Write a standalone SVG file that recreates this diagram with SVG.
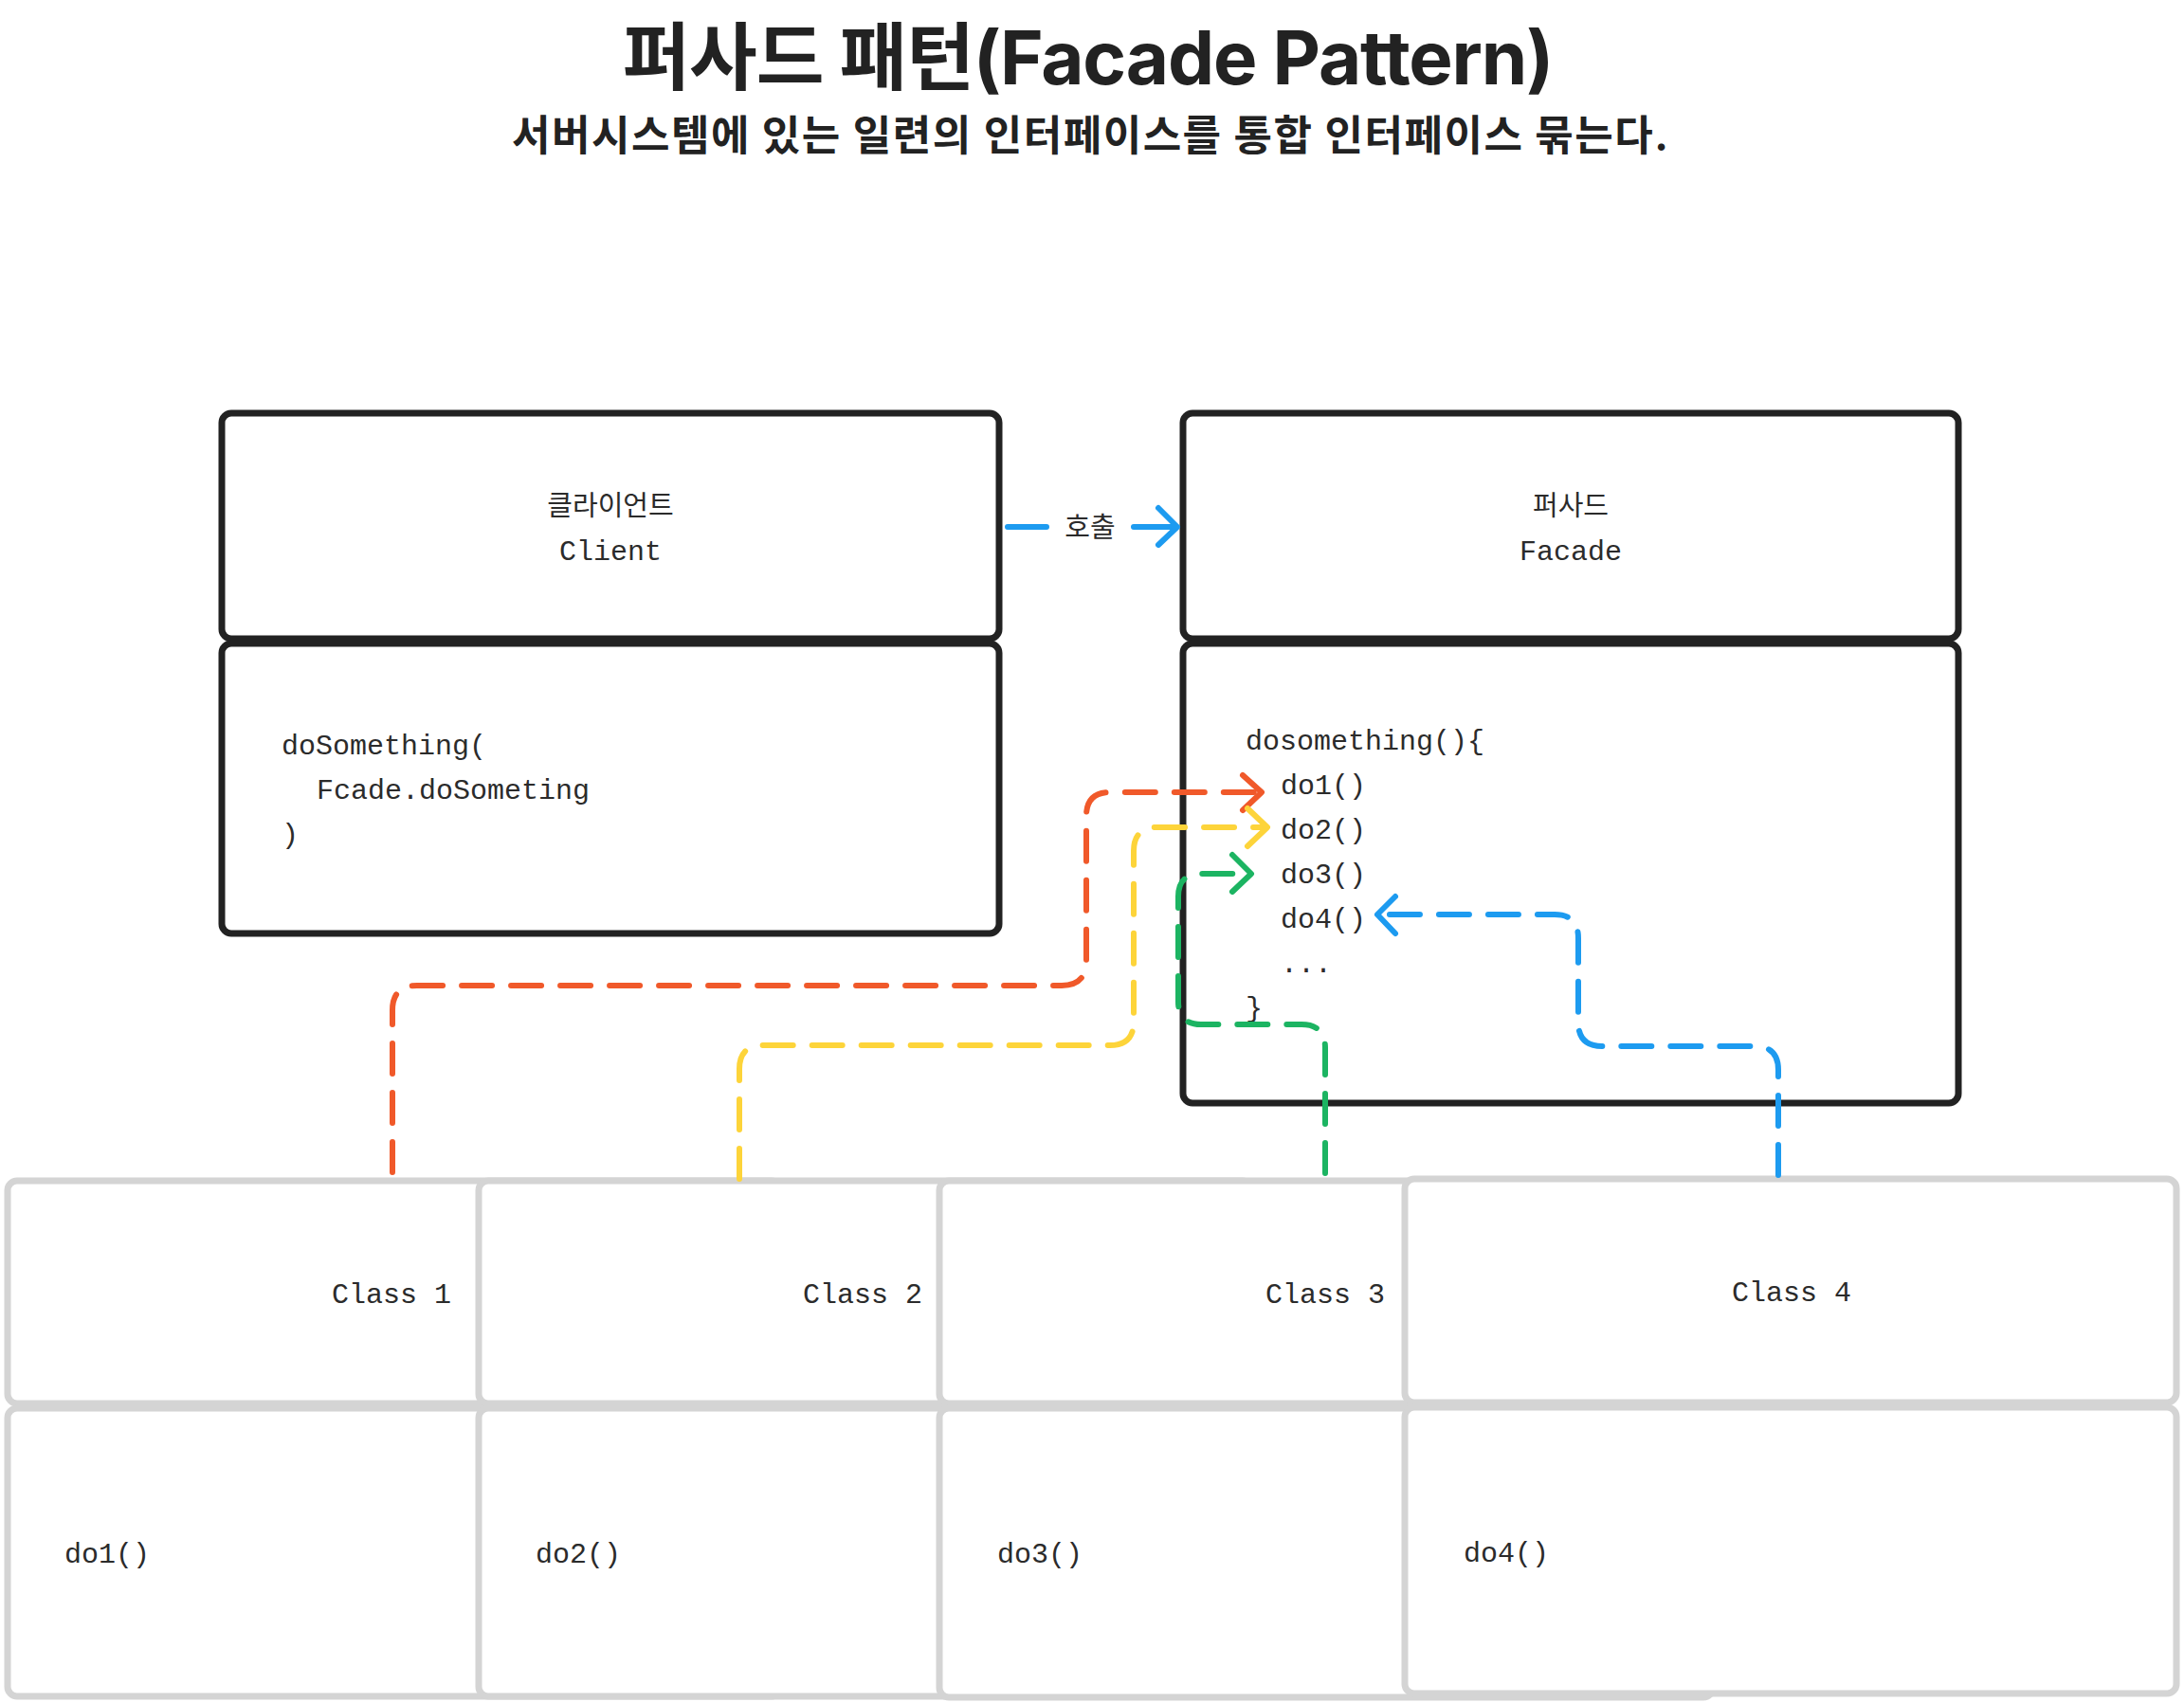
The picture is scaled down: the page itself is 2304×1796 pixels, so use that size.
<svg xmlns="http://www.w3.org/2000/svg" width="2304" height="1796" viewBox="0 0 2304 1796">
<style>
.title{font-family:"Inter","Noto Sans CJK KR",sans-serif;font-weight:700;fill:#222;text-anchor:middle}
.box{fill:#fff;stroke:#222;stroke-width:7}
.cls{fill:#fff;stroke:#d4d4d4;stroke-width:7}
.mono{font-family:"Liberation Mono","Noto Sans CJK KR",monospace;font-size:30px;fill:#2b2b2b}
.kr{font-family:"Noto Sans CJK KR",sans-serif;font-size:29px;fill:#2b2b2b;text-anchor:middle}
.mid{text-anchor:middle}
.dash{fill:none;stroke-width:6;stroke-linecap:round;stroke-linejoin:round;stroke-dasharray:32 20}
.head{fill:none;stroke-width:6;stroke-linecap:round;stroke-linejoin:round}
.red{stroke:#f0592a}
.yel{stroke:#fdd43a}
.grn{stroke:#1cb462}
.blu{stroke:#1d9bf0}
</style>
<rect width="2304" height="1796" fill="#fff"/>
<g id="title">
<text class="title" x="1148" y="89" font-size="78" textLength="983">퍼사드 패턴(Facade Pattern)</text>
<text class="title" x="1150" y="159" font-size="44" textLength="1220">서버시스템에 있는 일련의 인터페이스를 통합 인터페이스 묶는다.</text>
</g>
<g id="client">
<rect class="box" x="234" y="436" width="820" height="238" rx="10"/>
<rect class="box" x="234" y="679" width="820" height="306" rx="10"/>
<text class="kr" x="644" y="544">클라이언트</text>
<text class="mono mid" x="644" y="591">Client</text>
<text class="mono" x="297" y="796">doSomething(</text>
<text class="mono" x="334" y="843">Fcade.doSometing</text>
<text class="mono" x="297" y="890">)</text>
</g>
<g id="facade">
<rect class="box" x="1248" y="436" width="818" height="238" rx="10"/>
<rect class="box" x="1248" y="679" width="818" height="485" rx="10"/>
<text class="kr" x="1657" y="544">퍼사드</text>
<text class="mono mid" x="1657" y="591">Facade</text>
<text class="mono" x="1314" y="791">dosomething(){</text>
<text class="mono" x="1351" y="838">do1()</text>
<text class="mono" x="1351" y="885">do2()</text>
<text class="mono" x="1351" y="932">do3()</text>
<text class="mono" x="1351" y="979">do4()</text>
<text class="mono" x="1351" y="1026">...</text>
<text class="mono" x="1314" y="1073">}</text>
</g>
<g id="class1">
<rect class="cls" x="8" y="1246" width="816" height="235" rx="10"/>
<rect class="cls" x="8" y="1486" width="816" height="304" rx="10"/>
<text class="mono mid" x="413" y="1375">Class 1</text>
<text class="mono" x="68" y="1649">do1()</text>
</g>
<g id="class2">
<rect class="cls" x="505" y="1246" width="816" height="235" rx="10"/>
<rect class="cls" x="505" y="1486" width="816" height="304" rx="10"/>
<text class="mono mid" x="910" y="1375">Class 2</text>
<text class="mono" x="565" y="1649">do2()</text>
</g>
<g id="class3">
<rect class="cls" x="991" y="1246" width="816" height="235" rx="10"/>
<rect class="cls" x="991" y="1486" width="816" height="305" rx="10"/>
<text class="mono mid" x="1398" y="1375">Class 3</text>
<text class="mono" x="1052" y="1649">do3()</text>
</g>
<g id="class4">
<rect class="cls" x="1482" y="1244" width="814" height="236" rx="10"/>
<rect class="cls" x="1482" y="1485" width="814" height="302" rx="10"/>
<text class="mono mid" x="1890" y="1373">Class 4</text>
<text class="mono" x="1544" y="1648">do4()</text>
</g>
<g id="connectors">
<path class="head blu" d="M1063 556H1104M1196 556H1241"/>
<path class="head blu" d="M1222 536L1242 556L1222 575"/>
<text class="kr" x="1150" y="567" font-size="30">호출</text>
<path class="dash red" d="M414 1237V1066Q414 1040 440 1040H1120Q1146 1040 1146 1014V861Q1146 836 1171 836H1326"/>
<path class="head red" d="M1311 818L1331 836L1311 855"/>
<path class="dash yel" d="M780 1244V1128Q780 1103 805 1103H1171Q1196 1103 1196 1078V898Q1196 873 1221 873H1332"/>
<path class="head yel" d="M1316 853L1337 873L1316 893"/>
<path class="dash grn" d="M1398 1238V1106Q1398 1081 1373 1081H1267Q1243 1081 1243 1057V946Q1243 922 1267 922H1316"/>
<path class="head grn" d="M1300 902L1320 922L1300 941"/>
<path class="dash blu" d="M1876 1240V1129Q1876 1104 1851 1104H1690Q1665 1104 1665 1079V990Q1665 965 1640 965H1456"/>
<path class="head blu" d="M1472 946L1453 965L1472 985"/>
</g>
</svg>
